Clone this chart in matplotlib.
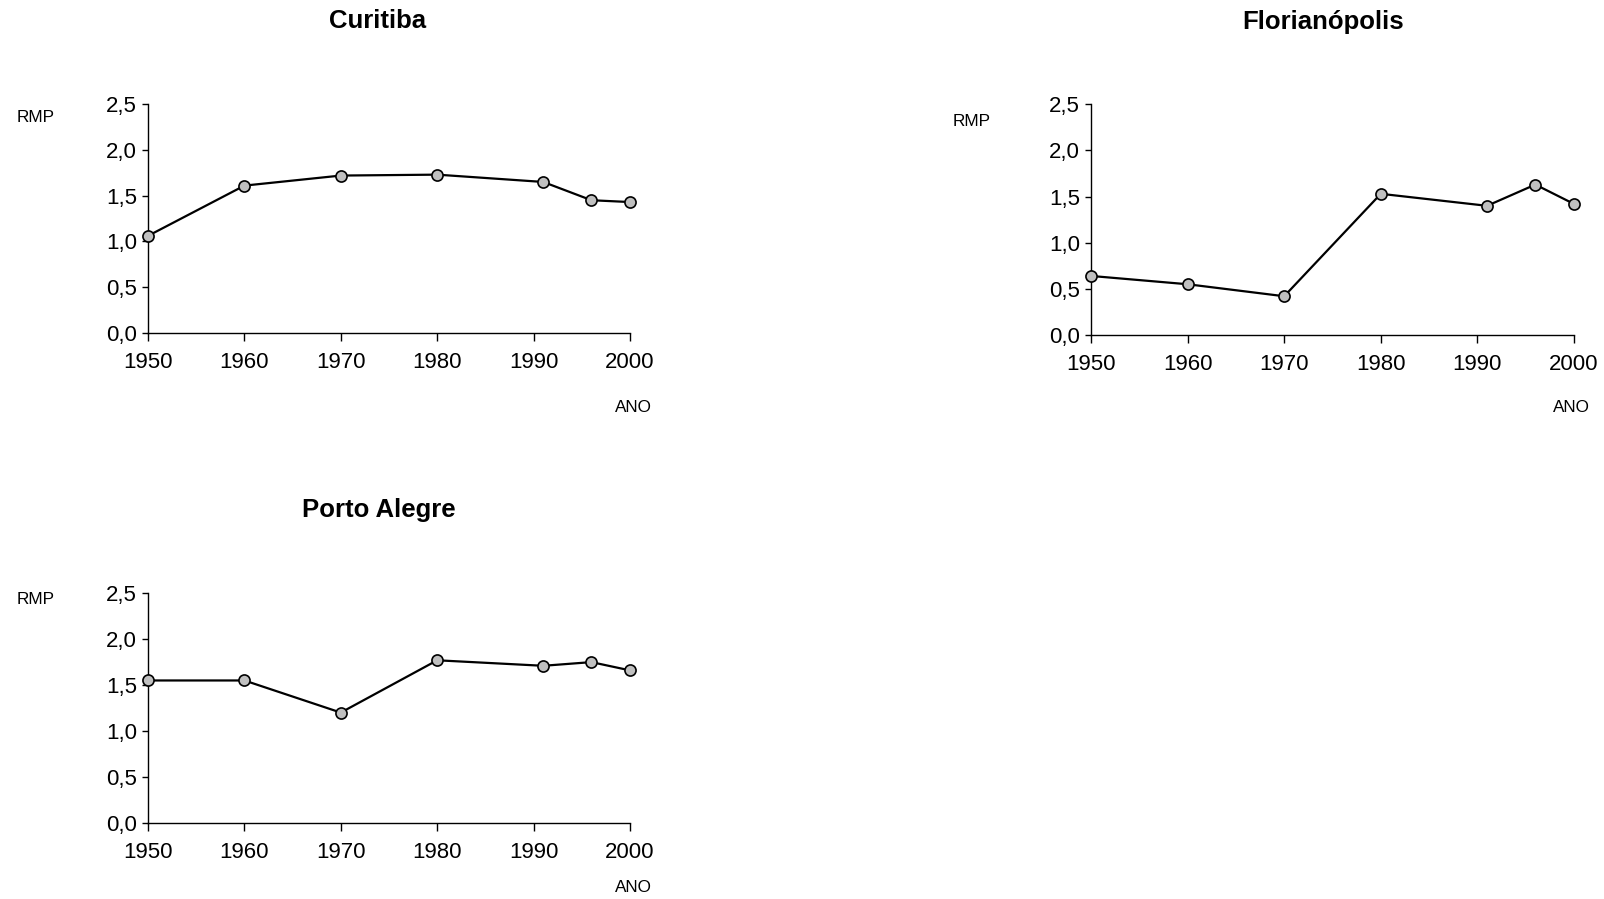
import matplotlib
matplotlib.use("Agg")
import matplotlib.pyplot as plt
from matplotlib.ticker import FuncFormatter

plt.rcParams['font.family'] = ['Liberation Sans', 'DejaVu Sans']

years = [1950, 1960, 1970, 1980, 1991, 1996, 2000]
curitiba = [1.06, 1.61, 1.72, 1.73, 1.65, 1.45, 1.43]
florianopolis = [0.64, 0.55, 0.42, 1.53, 1.40, 1.63, 1.42]
porto_alegre = [1.55, 1.55, 1.20, 1.77, 1.71, 1.75, 1.66]
titles = ["Curitiba", "Florianópolis", "Porto Alegre"]
x_ticks = [1950, 1960, 1970, 1980, 1990, 2000]
y_ticks = [0.0, 0.5, 1.0, 1.5, 2.0, 2.5]
y_label = "RMP"
x_label = "ANO"

W, H = 1604, 899
fig = plt.figure(figsize=(W / 100, H / 100), dpi=100)

def px(x, y):
    return x / W, 1 - y / H

# (left, top, right, bottom) in pixels
boxes = [
    (148, 104.3, 630, 332.7),
    (1091, 104.3, 1574, 335),
    (148, 593.3, 630, 822.7),
]
title_pos = [(378, 21), (1323, 22), (379, 510)]
rmp_pos = [(36, 118), (972, 122), (36, 600)]
ano_pos = [(633, 408), (1571, 408), (633, 888)]
series = [curitiba, florianopolis, porto_alegre]

fmt = FuncFormatter(lambda v, p: f"{v:.1f}".replace('.', ','))

for i in range(3):
    l, t, r, b = boxes[i]
    ax = fig.add_axes([l / W, 1 - b / H, (r - l) / W, (b - t) / H])
    ax.plot(years, series[i], color='black', linewidth=1.6, marker='o',
            markersize=8, markerfacecolor='#c0c0c0', markeredgecolor='black',
            markeredgewidth=1.2, clip_on=False, zorder=3)
    ax.set_xlim(1950, 2000)
    ax.set_ylim(0, 2.5)
    ax.set_xticks(x_ticks)
    ax.set_yticks(y_ticks)
    ax.yaxis.set_major_formatter(fmt)
    for s in ['top', 'right']:
        ax.spines[s].set_visible(False)
    for s in ['left', 'bottom']:
        ax.spines[s].set_linewidth(1.0)
        ax.spines[s].set_color('black')
    ax.tick_params(axis='x', direction='out', length=6, width=1.0, pad=8, labelsize=16)
    ax.tick_params(axis='y', direction='out', length=4, width=1.0, pad=4, labelsize=16)
    ax.patch.set_alpha(0)

    tx, ty = px(*title_pos[i])
    fig.text(tx, ty, titles[i], ha='center', va='center', fontsize=18.5, fontweight='bold')
    rx, ry = px(*rmp_pos[i])
    fig.text(rx, ry, y_label, ha='center', va='center', fontsize=12.3)
    ax_, ay_ = px(*ano_pos[i])
    fig.text(ax_, ay_, x_label, ha='center', va='center', fontsize=12.3)

fig.savefig("out.png", dpi=100, facecolor='white')
